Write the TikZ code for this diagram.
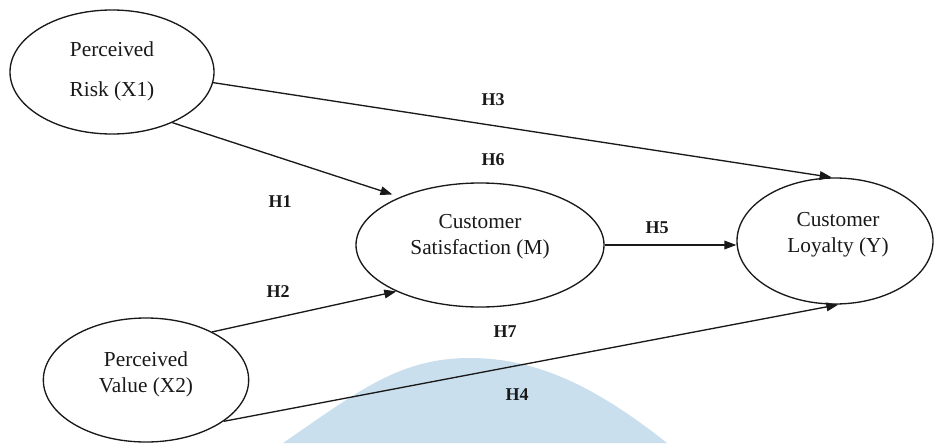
\documentclass[tikz,border=0pt]{standalone}
\usepackage{fontspec}
\setmainfont{Liberation Serif}
\usetikzlibrary{arrows.meta,shapes.geometric}
\definecolor{wm}{RGB}{202,223,237}
\definecolor{ink}{RGB}{25,25,25}
\begin{document}
\begin{tikzpicture}[x=0.75pt,y=-0.75pt,
  ell/.style={draw=ink,ellipse,line width=1pt,inner sep=0pt},
  lbl/.style={text=ink,font=\fontsize{16}{19.5}\selectfont,align=center,inner sep=0pt},
  hyp/.style={text=ink,font=\fontsize{13.5}{16}\selectfont\bfseries,inner sep=0pt},
  arr/.style={draw=ink,line width=1pt,-{Triangle[length=9pt,width=6.5pt]}}]
\useasboundingbox (0,0) rectangle (934,443);
% watermark
\fill[wm] (283,443) .. controls (360,390) and (400,358) .. (470,358)
  .. controls (540,358) and (600,390) .. (667,443) -- cycle;
% ellipses
\node[ell,minimum width=153pt,minimum height=93pt] (X1) at (112,72) {};
\node[ell,minimum width=186pt,minimum height=93pt] (M) at (480,245) {};
\node[ell,minimum width=147pt,minimum height=94.5pt] (Y) at (835,241) {};
\node[ell,minimum width=154pt,minimum height=93pt] (X2) at (146,380) {};
% texts
\node[lbl,font=\fontsize{16}{30}\selectfont] (X1t) at (112,71) {Perceived\\Risk (X1)};
\node[lbl] (Mt) at (480,237) {Customer\\Satisfaction (M)};
\node[lbl] (Yt) at (838,235) {Customer\\Loyalty (Y)};
\node[lbl] (X2t) at (146,374) {Perceived\\Value (X2)};
% connectors
\draw[arr] (X1.-6) -- (Y.93);
\draw[arr,shorten >=6pt] (X1.-40) -- (M.149);
\draw[arr] (X2.36) -- (M.209);
\draw[arr] (X2.-28) -- (Y.-87);
\draw[arr] (M.east) -- (M.east -| Y.west);
% hypothesis labels
\node[hyp] (H3) at (493,100) {H3};
\node[hyp] (H6) at (493,160) {H6};
\node[hyp] (H1) at (280,202) {H1};
\node[hyp] (H5) at (657,228) {H5};
\node[hyp] (H2) at (278,292) {H2};
\node[hyp] (H7) at (505,332) {H7};
\node[hyp] (H4) at (517,395) {H4};
\end{tikzpicture}
\end{document}
